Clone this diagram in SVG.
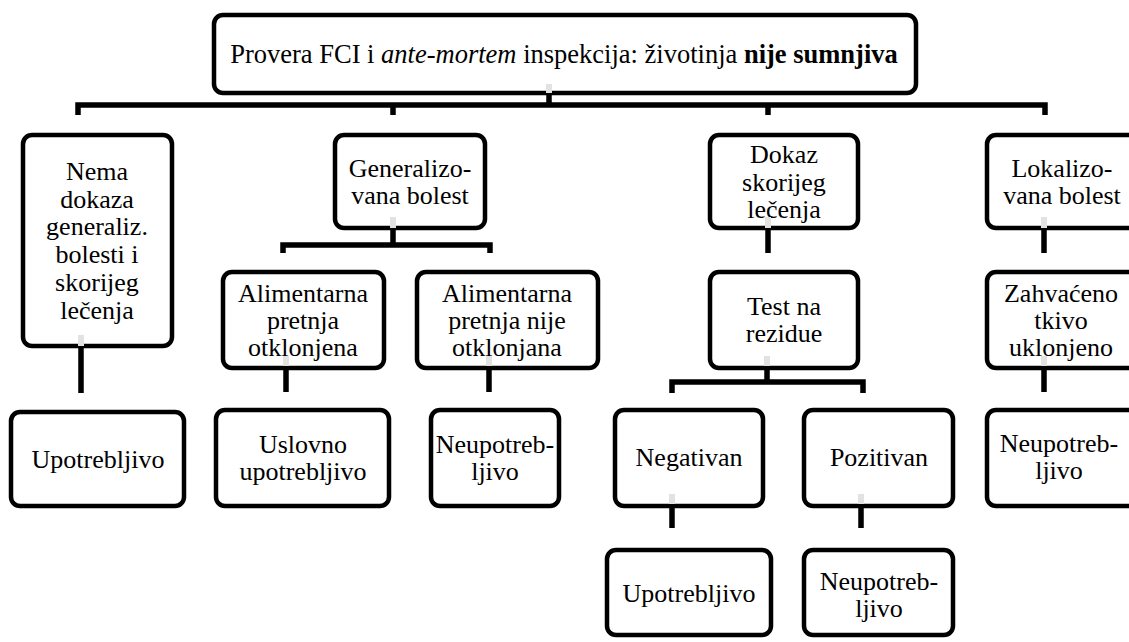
<svg xmlns="http://www.w3.org/2000/svg" width="1129" height="642" viewBox="0 0 1129 642">
<style>
.box{fill:#fff;stroke:#000;stroke-width:4.5}
.ln{stroke:#000;stroke-width:5.5;fill:none;stroke-linecap:butt;stroke-linejoin:miter}
.gr{fill:#e2e2e2}
</style>
<rect width="1129" height="642" fill="#fff"/>
<g font-family="Liberation Serif, serif" font-size="26" fill="#000" text-anchor="middle">
<g id="node-top">
<rect class="box" x="214" y="15" width="702" height="78" rx="9"/>
<text x="564" y="63" font-size="26.5">Provera FCI i <tspan font-style="italic">ante-mortem</tspan> inspekcija: životinja <tspan font-weight="bold">nije sumnjiva</tspan></text>
</g>
<g id="node-nema">
<rect class="box" x="23" y="135" width="149" height="211" rx="9"/>
<text x="97" y="180">Nema<tspan x="97" dy="27.7">dokaza</tspan><tspan x="97" dy="27.7">generaliz.</tspan><tspan x="97" dy="27.7">bolesti i</tspan><tspan x="97" dy="27.7">skorijeg</tspan><tspan x="97" dy="27.7">lečenja</tspan></text>
</g>
<g id="node-gen">
<rect class="box" x="335" y="135" width="150" height="93" rx="9"/>
<text x="410" y="177">Generalizo-<tspan x="410" dy="26.5">vana bolest</tspan></text>
</g>
<g id="node-dokaz">
<rect class="box" x="710" y="135" width="148" height="93" rx="9"/>
<text x="784" y="163">Dokaz<tspan x="784" dy="27.5">skorijeg</tspan><tspan x="784" dy="27.5">lečenja</tspan></text>
</g>
<g id="node-lokal">
<rect class="box" x="987" y="135" width="152" height="93" rx="9"/>
<text x="1062" y="177">Lokalizo-<tspan x="1062" dy="26.5">vana bolest</tspan></text>
</g>
<g id="node-alim1">
<rect class="box" x="223" y="272" width="161" height="96" rx="9"/>
<text x="303" y="302">Alimentarna<tspan x="303" dy="27">pretnja</tspan><tspan x="303" dy="27">otklonjena</tspan></text>
</g>
<g id="node-alim2">
<rect class="box" x="417" y="272" width="181" height="96" rx="9"/>
<text x="507" y="302">Alimentarna<tspan x="507" dy="27">pretnja nije</tspan><tspan x="507" dy="27">otklonjana</tspan></text>
</g>
<g id="node-test">
<rect class="box" x="710" y="272" width="148" height="96" rx="9"/>
<text x="784" y="315">Test na<tspan x="784" dy="27">rezidue</tspan></text>
</g>
<g id="node-zahv">
<rect class="box" x="987" y="272" width="152" height="96" rx="9"/>
<text x="1061" y="302">Zahvaćeno<tspan x="1061" dy="27">tkivo</tspan><tspan x="1061" dy="27">uklonjeno</tspan></text>
</g>
<g id="node-upo1">
<rect class="box" x="11" y="412" width="173" height="94" rx="9"/>
<text x="98" y="468">Upotrebljivo</text>
</g>
<g id="node-uslovno">
<rect class="box" x="216" y="410" width="173" height="96" rx="9"/>
<text x="303" y="453">Uslovno<tspan x="303" dy="27">upotrebljivo</tspan></text>
</g>
<g id="node-neup1">
<rect class="box" x="431" y="410" width="128" height="96" rx="9"/>
<text x="495" y="453">Neupotreb-<tspan x="495" dy="27">ljivo</tspan></text>
</g>
<g id="node-neg">
<rect class="box" x="615" y="410" width="148" height="96" rx="9"/>
<text x="689" y="466">Negativan</text>
</g>
<g id="node-poz">
<rect class="box" x="804" y="410" width="149" height="96" rx="9"/>
<text x="879" y="466">Pozitivan</text>
</g>
<g id="node-neup2">
<rect class="box" x="987" y="410" width="152" height="96" rx="9"/>
<text x="1059" y="452">Neupotreb-<tspan x="1059" dy="27">ljivo</tspan></text>
</g>
<g id="node-upo2">
<rect class="box" x="607" y="550" width="164" height="85" rx="9"/>
<text x="689" y="602">Upotrebljivo</text>
</g>
<g id="node-neup3">
<rect class="box" x="804" y="550" width="149" height="85" rx="9"/>
<text x="879" y="590">Neupotreb-<tspan x="879" dy="27">ljivo</tspan></text>
</g>
</g>
<g id="connectors">
<rect class="gr" x="546" y="84" width="6" height="9"/>
<rect class="gr" x="390" y="217" width="6" height="11"/>
<rect class="gr" x="765" y="217" width="6" height="11"/>
<rect class="gr" x="1041" y="217" width="6" height="11"/>
<rect class="gr" x="78" y="335" width="6" height="11"/>
<rect class="gr" x="283" y="356" width="6" height="10"/>
<rect class="gr" x="486" y="356" width="6" height="10"/>
<rect class="gr" x="764" y="356" width="6" height="10"/>
<rect class="gr" x="1041" y="356" width="6" height="10"/>
<rect class="gr" x="669" y="494" width="6" height="10"/>
<rect class="gr" x="858" y="494" width="6" height="10"/>
<path class="ln" d="M549 93V105M78 115V105H1045V115M393 105V115M768 105V115"/>
<path class="ln" d="M393 228V245M283 253V245H490V253"/>
<path class="ln" d="M768 228V253M1044 228V253"/>
<path class="ln" d="M81 346V393M286 368V392M489 368V392M1044 368V392"/>
<path class="ln" d="M767 368V382M672 393V382H863V393"/>
<path class="ln" d="M672 506V528M861 506V528"/>
</g>
</svg>
